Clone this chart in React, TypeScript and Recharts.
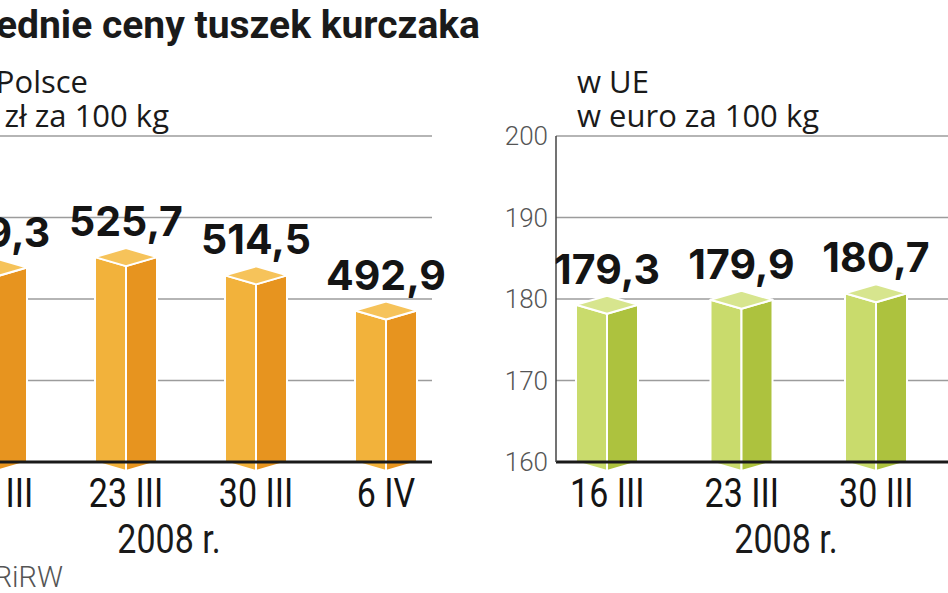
import React from "react";
import { BarChart, Bar, XAxis, YAxis, CartesianGrid, LabelList } from "recharts";

// values
const dates = ["16 III", "23 III", "30 III", "6 IV"];
const plnPrices = [519.3, 525.7, 514.5, 492.9];
const plnTicks = [400, 450, 500, 550, 600];

const euDates = ["16 III", "23 III", "30 III", "6 IV"];
const eurPrices = [179.3, 179.9, 180.7, 179.8];
const eurTicks = [160, 170, 180, 190, 200];

const plData = dates.map((d, i) => ({ date: d, value: plnPrices[i] }));
const euData = euDates.map((d, i) => ({ date: d, value: eurPrices[i] }));

const ORANGE = { front: "#F2B23B", side: "#E7941F", top: "#F6C35A" };
const GREEN = { front: "#C9DB6C", side: "#ADC23E", top: "#D7E58E" };

const fmt = (v: number) => v.toFixed(1).replace(".", ",");

const box3d = (c: { front: string; side: string; top: string }) => (props: any) => {
  const { x, y, width, height } = props;
  const d = 9;
  const m = x + width / 2;
  const r = x + width;
  const b = y + height;
  return (
    <g stroke="#fff" strokeWidth={2} strokeLinejoin="round">
      <polygon points={`${x},${y} ${m},${y + d} ${m},${b + d} ${x},${b}`} fill={c.front} />
      <polygon points={`${m},${y + d} ${r},${y} ${r},${b} ${m},${b + d}`} fill={c.side} />
      <polygon points={`${x},${y} ${m},${y - d} ${r},${y} ${m},${y + d}`} fill={c.top} />
    </g>
  );
};

const ValueLabel = (props: any) => {
  const { x, y, width, value } = props;
  return (
    <text x={x + width / 2} y={y - 21} textAnchor="middle" fontFamily="Inter" fontWeight={700}
      fontSize={41} fill="#141414">
      {fmt(value)}
    </text>
  );
};

const DateTick = (props: any) => {
  const { x, y, payload } = props;
  return (
    <g transform={`translate(${x},${y + 45}) scale(0.85,1)`}>
      <text textAnchor="middle" fontFamily="Roboto" fontSize={40} fill="#141414">
        {payload.value}
      </text>
    </g>
  );
};

const Panel = ({ data, ticks, colors, showAxis, width, padding, right }: any) => (
  <BarChart width={width} height={593} data={data} margin={{ top: 136, right, bottom: 91, left: 0 }}>
    <CartesianGrid vertical={false} stroke="#9c9c9c" strokeWidth={1.5} />
    <XAxis dataKey="date" height={40} padding={padding} tickLine={false} tickSize={0} tickMargin={0}
      axisLine={{ stroke: "#1a1a1a", strokeWidth: 3 }} tick={<DateTick />} interval={0} />
    <YAxis hide={!showAxis} width={60} domain={[ticks[0], ticks[ticks.length - 1]]} ticks={ticks}
      tickLine={false} axisLine={{ stroke: "#444", strokeWidth: 1.5 }}
      tick={{ fontFamily: "Roboto", fontWeight: 300, fontSize: 26, fill: "#555" }} />
    <Bar dataKey="value" barSize={62} shape={box3d(colors)} isAnimationActive={false}>
      <LabelList dataKey="value" content={<ValueLabel />} />
    </Bar>
  </BarChart>
);

const T = { fontFamily: "Roboto", fill: "#1a1a1a" };
const S = { fontFamily: "Open Sans", fill: "#1a1a1a", fontSize: 31 };

export default function App() {
  return (
    <div style={{ position: "absolute", left: 0, top: 0, width: 948, height: 593, overflow: "hidden", background: "#fff" }}>
      <div style={{ position: "absolute", left: -69, top: 0 }}>
        <Panel data={plData} ticks={plnTicks} colors={ORANGE} showAxis={false} width={560} right={59}
          padding={{ left: 0, right: -19 }} />
      </div>
      <div style={{ position: "absolute", left: 496, top: 0 }}>
        <Panel data={euData} ticks={eurTicks} colors={GREEN} showAxis={true} width={582} right={0}
          padding={{ left: -16, right: 0 }} />
      </div>
      <svg width={948} height={593} style={{ position: "absolute", left: 0, top: 0, pointerEvents: "none" }}>
        <text {...T} x={480} y={38} textAnchor="end" fontWeight={700} fontSize={39}>Średnie ceny tuszek kurczaka</text>
        <text {...S} x={88} y={93} textAnchor="end">w Polsce</text>
        <text {...S} x={169} y={127} textAnchor="end">w zł za 100 kg</text>
        <text {...S} x={577} y={93}>w UE</text>
        <text {...S} x={577} y={127}>w euro za 100 kg</text>
        <g transform="translate(169,553) scale(0.85,1)">
          <text {...T} textAnchor="middle" fontSize={40}>2008 r.</text>
        </g>
        <g transform="translate(786,553) scale(0.85,1)">
          <text {...T} textAnchor="middle" fontSize={40}>2008 r.</text>
        </g>
        <text x={63} y={587} textAnchor="end" fontFamily="Roboto" fontWeight={300} fontSize={29} fill="#555">
          Źródło: ZSRIR MRiRW
        </text>
      </svg>
    </div>
  );
}
